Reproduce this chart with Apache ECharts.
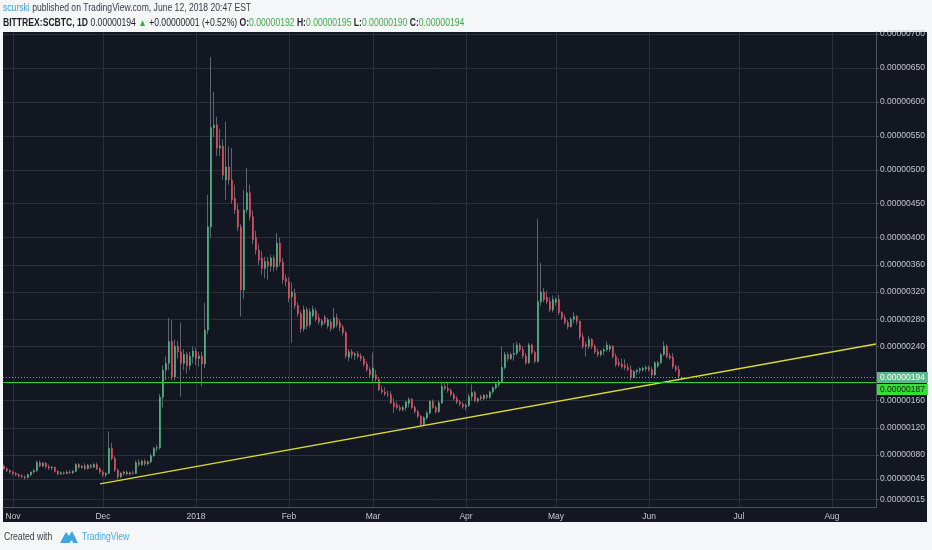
<!DOCTYPE html>
<html>
<head>
<meta charset="utf-8">
<script src="https://cdn.jsdelivr.net/npm/echarts@6/dist/echarts.min.js"></script>
<style>
html,body{margin:0;padding:0;background:#f5f6f8;}
#c{width:932px;height:550px;}
</style>
</head>
<body>
<div id="c"></div>
<script>
// ---------- DATA (prices in satoshi, 1 sat = 0.00000001 BTC) ----------
const firstDay = [2017, 9, 29]; // first daily candle: 29 Oct 2017

const opens = [
  64,60,57,
  55,53,51,49,48,47,51,55,57,69, 64,68,63,61,62,56,52,54,53,55, 54,56,66,62,64,60,65,62,66,60,
  55,51,53,90,75,58,48,53,55,52, 54,53,69,66,71,67,70,79,90,91, 165,205,215,247,195,240,232,215,228,212, 225,
  233,222,226,214,264,416,562,566,532,535, 485,504,485,458,441,416,323,441,466,431, 400,382,370,355,365,358,370,357,392,364, 340,
  335,313,318,300,288,266,294,272,285,292, 282,272,283,270,276,268,282,275,268,260, 224,232,227,229,226,222,214,206,
  194,198,191,176,173,170,169,157,154,150, 147,150,156,162,150,144,137,125,135,142, 159,150,144,157,181,178,175,169,163,158, 155,
  151,153,166,172,160,166,163,168,165,173, 179,184,188,209,228,222,228,230,242,235, 226,216,242,231,218,306,320,312,306,294,
  305,309,290,282,275,269,280,284,277,254, 243,240,250,240,232,228,233,235,236,240, 225,216,214,212,209,206,194,203,205,206, 207,
  209,206,198,211,216,228,240,226,224,210, 206,192
];
const highs = [
  66,62,59,
  57,55,53,52,50,53,56,60,72,72, 70,70,66,64,63,58,56,56,57,58, 58,68,68,65,68,67,67,68,69,62,
  58,55,115,98,78,60,55,57,57,56, 57,72,74,73,74,72,82,92,95,170, 212,225,282,279,250,248,275,236,232,232, 240,
  238,232,232,304,463,666,615,578,560,545, 571,534,532,478,450,420,470,503,478,440, 410,390,380,372,372,375,374,407,400,370, 346,
  342,334,325,305,292,300,298,296,300,296, 288,280,286,282,280,297,288,280,272,263, 236,236,232,233,230,226,218,210,
  231,205,194,182,180,175,174,164,159,154, 153,160,165,164,153,146,139,137,145,161, 162,153,160,188,186,188,178,172,167,161, 158,
  156,170,184,175,165,169,170,170,175,181, 186,191,240,232,231,231,245,247,245,240, 230,245,244,234,428,363,326,322,312,315,
  312,316,292,287,279,283,290,286,278,260, 247,255,252,243,237,235,238,247,243,242, 230,222,222,221,215,212,205,207,209,210, 212,
  212,210,218,219,230,247,243,230,230,213, 212,195
];
const lows = [
  58,55,52,
  50,49,47,46,44,45,49,53,55,62, 62,60,58,58,54,50,51,51,52,52, 52,55,60,60,58,59,60,61,58,52,
  48,47,52,72,55,44,46,50,50,50, 51,52,63,64,64,65,68,77,85,88, 150,190,205,190,190,222,166,205,200,205, 215,
  212,210,181,208,258,400,548,520,520,485, 456,478,450,435,410,284,310,436,425,390, 375,360,345,340,338,350,350,352,358,332, 328,
  305,245,295,284,260,262,265,268,282,276, 272,268,272,266,262,265,268,262,256,222, 218,222,220,222,218,210,202,194,
  188,188,174,170,167,165,155,142,147,144, 144,145,150,148,141,134,122,123,132,140, 148,141,142,155,175,172,166,160,155,152, 148,
  146,151,160,158,157,160,161,162,163,170, 176,180,186,206,218,220,219,227,232,222, 213,214,228,215,216,300,305,302,290,290,
  300,286,279,272,265,268,274,272,250,236, 225,236,236,229,224,225,227,232,232,222, 210,210,207,205,203,190,193,198,200,202, 203,
  203,195,196,208,214,226,222,220,207,203, 193,190
];
const closes = [
  60,57,55,
  53,51,49,48,47,51,55,57,69,64, 68,63,61,62,56,52,54,53,55,54, 56,66,62,64,60,65,62,66,60,55,
  51,53,90,75,58,48,53,55,52,54, 53,69,66,71,67,70,79,90,91,165, 205,215,247,195,240,232,215,228,212,225, 233,
  222,226,214,264,416,562,566,532,535,492, 504,485,456,441,416,323,441,466,431,397, 382,367,355,365,358,370,357,392,364,338, 335,
  311,320,300,288,266,294,270,291,294,280, 276,277,275,279,266,282,272,268,260,226, 232,227,229,225,222,214,206,198,
  208,192,176,173,170,169,157,151,150,147, 150,158,162,150,144,137,125,135,142,159, 150,144,157,181,178,175,169,163,158,155, 151,
  153,166,172,160,163,163,168,165,173,179, 184,188,209,228,222,228,230,242,235,226, 216,242,231,218,306,320,309,306,294,309,
  309,290,282,275,269,280,284,277,254,240, 240,250,240,232,228,233,235,242,240,225, 213,213,210,209,206,194,203,205,207,208, 209,
  206,198,216,216,228,240,225,223,210,206, 196,194
];

// price-scale tick labels (satoshi)
const yTicks = [700,650,600,550,500,450,400,360,320,280,240,160,120,80,45,15];
// month gridlines and their labels
const monthStarts = [[2017,10],[2017,11],[2018,0],[2018,1],[2018,2],[2018,3],[2018,4],[2018,5],[2018,6],[2018,7]];
const monthLabels = ['Nov','Dec','2018','Feb','Mar','Apr','May','Jun','Jul','Aug'];
// horizontal levels
const lastPrice = 194;
const supportLevel = 187;
// rising trend line: [year, month, day, hour, price]
const trendFrom = [2017, 10, 30, 0, 37.6];
const trendTo = [2018, 7, 15, 16, 243.5];
// visible time range
const viewFrom = [2017, 9, 28, 16];
const viewTo = [2018, 7, 15, 16];
// visible price range (satoshi)
const priceMin = 2.8, priceMax = 702.8;

// ---------- BUILD ----------
const FONT = "'Liberation Sans',Arial,sans-serif";
const NARROW = 0.86; // header/footer text horizontal squeeze
const times = opens.map((_, i) => new Date(firstDay[0], firstDay[1], firstDay[2] + i).getTime());
const wickData = times.map((t, i) => [t, opens[i], closes[i], lows[i], highs[i]]);
const bodyData = times.map((t, i) => [t, opens[i], closes[i], Math.min(opens[i], closes[i]), Math.max(opens[i], closes[i])]);
const monthMs = monthStarts.map(m => new Date(m[0], m[1], 1).getTime());
const fmtPrice = v => (v / 1e8).toFixed(8);

const UP = '#53b987', DOWN = '#eb4d5c', WICK = '#5d6472';
const GRID = '#2a2f3c', AXIS = '#4c525e', TXT = '#c4c7ce';
const AX_FS = 8.5;

const chart = echarts.init(document.getElementById('c'), null, {renderer: 'canvas'});
chart.setOption({
  animation: false,
  backgroundColor: '#f5f6f8',
  grid: {left: 3, right: 56, top: 32, bottom: 42.5, containLabel: false, outerBoundsMode: 'none'},
  xAxis: {
    type: 'value',
    min: new Date(...viewFrom).getTime(),
    max: new Date(...viewTo).getTime(),
    axisLine: {show: true, lineStyle: {color: AXIS, width: 1}},
    axisTick: {show: false, customValues: monthMs},
    splitLine: {show: true, lineStyle: {color: GRID, width: 1}},
    axisLabel: {
      customValues: monthMs,
      color: TXT, fontSize: AX_FS, fontFamily: FONT, margin: 5,
      formatter: function (v) {
        const i = monthMs.indexOf(v);
        return i >= 0 ? monthLabels[i] : '';
      }
    }
  },
  yAxis: {
    type: 'value',
    position: 'right',
    min: priceMin, max: priceMax,
    axisLine: {show: true, lineStyle: {color: AXIS, width: 1}},
    axisTick: {show: true, length: 3, customValues: yTicks, lineStyle: {color: AXIS}},
    splitLine: {show: true, lineStyle: {color: GRID, width: 1}},
    axisLabel: {
      customValues: yTicks,
      color: TXT, fontSize: AX_FS, fontFamily: FONT, margin: 4,
      formatter: fmtPrice
    }
  },
  graphic: [
    {type: 'rect', z: -10, silent: true, shape: {x: 3, y: 32, width: 924, height: 490}, style: {fill: '#131722'}},
    {type: 'text', x: 3, y: 8, scaleX: NARROW, silent: true, style: {
      text: '{u|scurski} published on TradingView.com, June 12, 2018 20:47 EST',
      fill: '#3a3d44', font: '10px ' + FONT, verticalAlign: 'middle',
      rich: {u: {fill: '#3d9fd9', font: '10px ' + FONT}}
    }},
    {type: 'text', x: 3, y: 23, scaleX: NARROW, silent: true, style: {
      text: '{b|BITTREX:SCBTC, 1D} 0.00000194 {g|▲} +0.00000001 (+0.52%) {b|O:}{g|0.00000192} {b|H:}{g|0.00000195} {b|L:}{g|0.00000190} {b|C:}{g|0.00000194}',
      fill: '#1f2126', font: '10px ' + FONT, verticalAlign: 'middle',
      rich: {
        b: {fill: '#1f2126', font: 'bold 10px ' + FONT},
        g: {fill: '#3aab4a', font: '10px ' + FONT}
      }
    }},
    {type: 'text', x: 4, y: 537, scaleX: NARROW, silent: true, style: {
      text: 'Created with', fill: '#3a3d44', font: '10px ' + FONT, verticalAlign: 'middle'
    }},
    {type: 'polygon', silent: true, shape: {points: [[60,543],[66,532],[69,536],[72,531],[78,543],[73,543],[72,540],[69,543]]}, style: {fill: '#3ea6e0'}},
    {type: 'text', x: 82, y: 537, scaleX: NARROW, silent: true, style: {
      text: 'TradingView', fill: '#4aa8e0', font: '10px ' + FONT, verticalAlign: 'middle'
    }}
  ],
  series: [
    {
      name: 'wick', type: 'candlestick', silent: true, barWidth: 1,
      data: wickData,
      itemStyle: {color: WICK, color0: WICK, borderColor: WICK, borderColor0: WICK, borderWidth: 1},
      z: 2
    },
    {
      name: 'body', type: 'candlestick', silent: true, barWidth: 2,
      data: bodyData,
      itemStyle: {color: UP, color0: DOWN, borderColor: UP, borderColor0: DOWN, borderWidth: 0.6},
      z: 3,
      markLine: {
        silent: true, symbol: 'none', animation: false,
        data: [
          {yAxis: lastPrice,
           lineStyle: {color: '#8f96a3', type: [1, 2], width: 1.2},
           label: {show: true, position: 'end', distance: 1, formatter: fmtPrice(lastPrice),
                   backgroundColor: '#5cb98c', color: '#ffffff', padding: [1, 3, 1, 3],
                   fontSize: AX_FS, fontFamily: FONT}},
          {yAxis: supportLevel,
           lineStyle: {color: '#2fd32f', type: 'solid', width: 1},
           label: {show: true, position: 'end', distance: 1, formatter: fmtPrice(supportLevel), offset: [0, 7],
                   backgroundColor: '#33e133', color: '#131722', padding: [1, 3, 1, 3],
                   fontSize: AX_FS, fontFamily: FONT}}
        ]
      }
    },
    {
      name: 'trend', type: 'line', silent: true, symbol: 'none', z: 4,
      data: [
        [new Date(trendFrom[0], trendFrom[1], trendFrom[2], trendFrom[3]).getTime(), trendFrom[4]],
        [new Date(trendTo[0], trendTo[1], trendTo[2], trendTo[3]).getTime(), trendTo[4]]
      ],
      lineStyle: {color: '#d9dc2e', width: 1.4}
    }
  ]
});
</script>
</body>
</html>
